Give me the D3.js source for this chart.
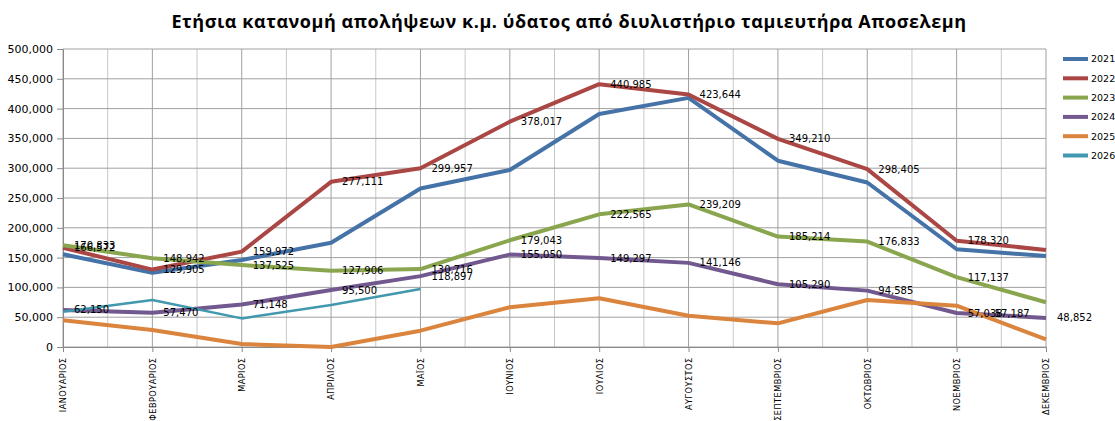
<!DOCTYPE html>
<html>
<head>
<meta charset="utf-8">
<script src="https://cdn.jsdelivr.net/npm/d3@7"></script>
<style>
  body { margin: 0; background: #fff; }
  svg { display: block; }
  .axis text { font-family: "DejaVu Sans", Verdana, sans-serif; fill: #000; }
</style>
</head>
<body>
<div id="chart"></div>
<script>
// months as printed on the axis
var months = ["ΙΑΝΟΥΑΡΙΟΣ", "ΦΕΒΡΟΥΑΡΙΟΣ", "ΜΑΡΙΟΣ", "ΑΠΡΙΛΙΟΣ", "ΜΑΪΟΣ", "ΙΟΥΝΙΟΣ",
    "ΙΟΥΛΙΟΣ", "ΑΥΓΟΥΣΤΟΣ", "ΣΕΠΤΕΜΒΡΙΟΣ", "ΟΚΤΩΒΡΙΟΣ", "ΝΟΕΜΒΡΙΟΣ", "ΔΕΚΕΜΒΡΙΟΣ"];

var years = ["2021", "2022", "2023", "2024", "2025", "2026"];

// values (labelled points use the printed label)
var v2021 = [155500, 124700, 146000, 175000, 266000, 297000, 391000, 418000, 312600, 276000, 164000, 152700];
var v2022 = [166572, 129905, 159972, 277111, 299957, 378017, 440985, 423644, 349210, 298405, 178320, 162800];
var v2023 = [170833, 148942, 137525, 127906, 130716, 179043, 222565, 239209, 185214, 176833, 117137, 75000];
var v2024 = [62150, 57470, 71148, 95500, 118897, 155050, 149297, 141146, 105290, 94585, 57038, 48852];
var v2025 = [44700, 28500, 5000, 0, 27400, 66600, 81700, 52500, 39700, 78900, 69300, 12900];
var v2026 = [59000, 78900, 48000, 70500, 97300];

// which series carry value labels
var labelled = ["2022", "2023", "2024"];
var labelSkip = { "2022": [11], "2023": [11] };
var extraLabel = { year: "2024", month: 10, text: "57,187" };

var yTicks = [0, 50000, 100000, 150000, 200000, 250000, 300000, 350000, 400000, 450000, 500000];

var colors = ["#4572A7", "#AA4643", "#89A54E", "#71588F", "#DB843D", "#4198AF"];
var series = [v2021, v2022, v2023, v2024, v2025, v2026];

var W = 1115, H = 421;
var margin = { top: 49, right: 69, bottom: 74, left: 63 };
var width = W - margin.left - margin.right,
    height = H - margin.top - margin.bottom;

var svg = d3.select("#chart").append("svg")
    .attr("width", W)
    .attr("height", H);

svg.append("text")
    .attr("x", 569)
    .attr("y", 28)
    .attr("text-anchor", "middle")
    .style("font-family", "'Open Sans', sans-serif")
    .style("font-weight", "bold")
    .style("font-size", "18px")
    .style("letter-spacing", "0.55px")
    .text("Ετήσια κατανομή απολήψεων κ.μ. ύδατος από διυλιστήριο ταμιευτήρα Αποσελεμη");

var g = svg.append("g")
    .attr("transform", "translate(" + margin.left + "," + margin.top + ")");

var xScale = d3.scalePoint().domain(months).range([0, width]);
var yScale = d3.scaleLinear().domain([0, 500000]).range([height, 0]);

// minor vertical gridlines between months
var step = xScale.step();
g.append("g").selectAll("line")
    .data(months.slice(1))
    .enter().append("line")
    .attr("x1", function(d) { return xScale(d) - step / 2; })
    .attr("x2", function(d) { return xScale(d) - step / 2; })
    .attr("y1", 0).attr("y2", height)
    .attr("stroke", "#c8c8c8").attr("stroke-width", 1);

// major vertical gridlines
g.append("g").selectAll("line")
    .data(months)
    .enter().append("line")
    .attr("x1", function(d) { return xScale(d); })
    .attr("x2", function(d) { return xScale(d); })
    .attr("y1", 0).attr("y2", height)
    .attr("stroke", "#a0a0a0").attr("stroke-width", 1);

// horizontal gridlines
g.append("g").selectAll("line")
    .data(yTicks)
    .enter().append("line")
    .attr("x1", 0).attr("x2", width)
    .attr("y1", function(d) { return yScale(d); })
    .attr("y2", function(d) { return yScale(d); })
    .attr("stroke", "#a0a0a0").attr("stroke-width", 1);

var yAxis = g.append("g")
    .attr("class", "axis")
    .call(d3.axisLeft(yScale).tickValues(yTicks).tickFormat(d3.format(",")).tickSize(6).tickPadding(4));
yAxis.selectAll("text").style("font-size", "11px");
yAxis.selectAll("line, path").attr("stroke", "#8a8a8a");

var xAxis = g.append("g")
    .attr("class", "axis")
    .attr("transform", "translate(0," + height + ")")
    .call(d3.axisBottom(xScale).tickSize(5).tickSizeOuter(0));
xAxis.selectAll("line, path").attr("stroke", "#8a8a8a");
xAxis.selectAll("text")
    .style("font-size", "8.2px")
    .style("letter-spacing", "0.45px")
    .attr("text-anchor", "end")
    .attr("transform", "rotate(-90)")
    .attr("x", -10.5)
    .attr("y", 0)
    .attr("dy", "0.35em");

var line = d3.line()
    .x(function(d, i) { return xScale(months[i]); })
    .y(function(d) { return yScale(d); });

series.forEach(function(vals, k) {
    g.append("path")
        .datum(vals)
        .attr("fill", "none")
        .attr("stroke", colors[k])
        .attr("stroke-width", k === 5 ? 2.5 : 4)
        .attr("stroke-linejoin", "round")
        .attr("d", line);
});

// value labels, right of the point
var fmt = d3.format(",");
var labels = g.append("g")
    .style("font-family", "'DejaVu Sans', Verdana, sans-serif")
    .style("font-size", "10px");
labelled.forEach(function(yr) {
    var vals = series[years.indexOf(yr)];
    var skip = labelSkip[yr] || [];
    vals.forEach(function(v, i) {
        if (skip.indexOf(i) >= 0) return;
        labels.append("text")
            .attr("x", xScale(months[i]) + 11)
            .attr("y", yScale(v))
            .attr("dy", "0.35em")
            .text(fmt(v));
    });
});
var ev = series[years.indexOf(extraLabel.year)][extraLabel.month];
labels.append("text")
    .attr("x", xScale(months[extraLabel.month]) + 38)
    .attr("y", yScale(ev))
    .attr("dy", "0.35em")
    .text(extraLabel.text);

// legend
var legend = svg.append("g")
    .attr("transform", "translate(1063,59)")
    .style("font-family", "'DejaVu Sans', Verdana, sans-serif")
    .style("font-size", "9.5px");
years.forEach(function(yr, k) {
    var row = legend.append("g").attr("transform", "translate(0," + k * 19.3 + ")");
    row.append("line")
        .attr("x1", 0).attr("x2", 25)
        .attr("stroke", colors[k])
        .attr("stroke-width", 4);
    row.append("text")
        .attr("x", 28)
        .attr("dy", "0.35em")
        .text(yr);
});
</script>
</body>
</html>
